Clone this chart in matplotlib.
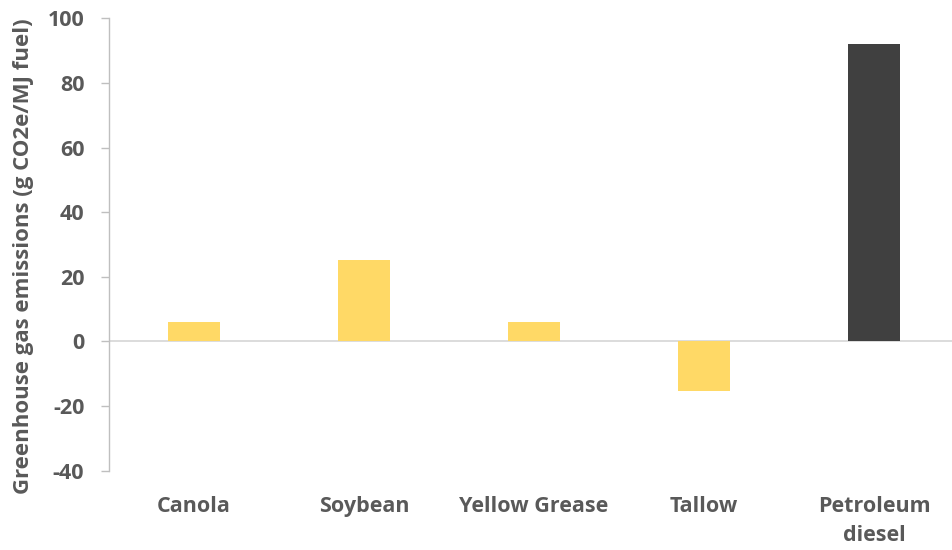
import matplotlib.pyplot as plt

# Lifecycle GHG emissions by feedstock
fuels = ['Canola', 'Soybean', 'Yellow Grease', 'Tallow', 'Petroleum\ndiesel']
emissions = [5.9, 25.2, 5.9, -15.3, 91.9]
bar_colors = ['#FFD966', '#FFD966', '#FFD966', '#FFD966', '#404040']

plt.rcParams['font.family'] = ['Open Sans', 'DejaVu Sans']
plt.rcParams['axes.unicode_minus'] = False
text_grey = '#595959'

fig = plt.figure(figsize=(9.53, 5.5), dpi=100)
ax = fig.add_axes([0.1144, 0.1442, 0.8919, 0.8225])

x = range(len(fuels))
ax.bar(x, emissions, width=0.31, color=bar_colors, zorder=3)
ax.axhline(0, color='#D9D9D9', linewidth=1.3, zorder=2)

ax.set_xlim(-0.5, 4.5)
ax.set_ylim(-40, 100)
ax.set_yticks(range(-40, 101, 20))
ax.set_xticks(list(x))
ax.set_xticklabels(fuels, fontsize=15.5, fontweight='bold', color=text_grey,
                   linespacing=1.5, va='top')
ax.tick_params(axis='x', length=0, pad=18.5)
ax.tick_params(axis='y', length=5.8, width=1, color='#BFBFBF', labelsize=15.5,
               labelcolor=text_grey, pad=12)
for lbl in ax.get_yticklabels():
    lbl.set_fontweight('bold')

for side in ['top', 'right', 'bottom']:
    ax.spines[side].set_visible(False)
ax.spines['left'].set_color('#BFBFBF')
ax.spines['left'].set_linewidth(1)

ax.set_ylabel('Greenhouse gas emissions (g CO2e/MJ fuel)', fontsize=16,
              fontweight='bold', color=text_grey)
ax.yaxis.set_label_coords(-0.088, 0.4746)

fig.savefig('out.png', dpi=100)
